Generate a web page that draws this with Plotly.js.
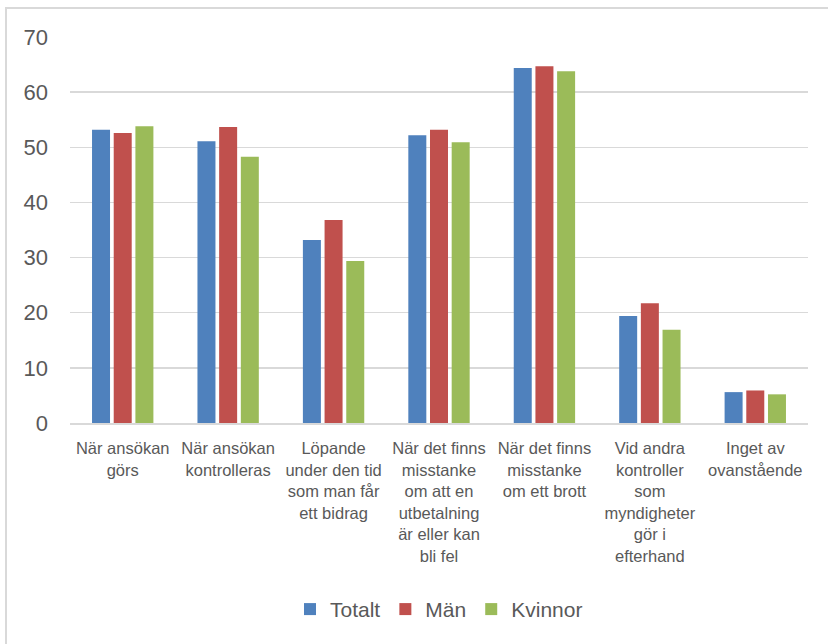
<!DOCTYPE html>
<html>
<head>
<meta charset="utf-8">
<script src="https://cdn.plot.ly/plotly-3.0.1.min.js"></script>
<style>
  html, body { margin: 0; padding: 0; background: #fff; overflow: hidden; }
  #chart { position: absolute; left: 0; top: 0; width: 828px; height: 644px; }
  #frame { position: absolute; left: 5px; top: 7px; width: 840px; height: 660px;
           border-top: 2px solid #D9D9D9; border-left: 2px solid #D9D9D9; pointer-events: none; }
</style>
</head>
<body>
<div id="chart"></div>
<div id="frame"></div>
<script>
const categories = [
  "När ansökan<br>görs",
  "När ansökan<br>kontrolleras",
  "Löpande<br>under den tid<br>som man får<br>ett bidrag",
  "När det finns<br>misstanke<br>om att en<br>utbetalning<br>är eller kan<br>bli fel",
  "När det finns<br>misstanke<br>om ett brott",
  "Vid andra<br>kontroller<br>som<br>myndigheter<br>gör i<br>efterhand",
  "Inget av<br>ovanstående"
];
const totalt  = [53.2, 51.1, 33.2, 52.2, 64.4, 19.4, 5.6];
const man     = [52.6, 53.7, 36.8, 53.2, 64.7, 21.7, 5.9];
const kvinnor = [53.8, 48.3, 29.4, 50.9, 63.8, 16.9, 5.2];
const seriesNames = ["Totalt", "Män", "Kvinnor"];
const yTicks = [0, 10, 20, 30, 40, 50, 60, 70];

const colors = ["#4F81BD", "#C0504D", "#9BBB59"];
const fontFam = "'Liberation Sans', Arial, sans-serif";

const data = [totalt, man, kvinnor].map((vals, i) => ({
  type: "bar",
  name: seriesNames[i],
  x: categories,
  y: vals,
  marker: { color: colors[i] },
  hoverinfo: "y"
}));

const layout = {
  width: 828,
  height: 644,
  margin: { l: 70, r: 20, t: 37, b: 221 },
  paper_bgcolor: "#fff",
  plot_bgcolor: "#fff",
  font: { family: fontFam, color: "#595959" },
  barmode: "group",
  bargap: 0.383,
  bargroupgap: 0.17,
  showlegend: true,
  legend: {
    orientation: "h",
    x: 0.5, xanchor: "center",
    y: -0.483, yanchor: "middle",
    font: { size: 21, family: fontFam, color: "#595959" },
    itemwidth: 30,
    traceorder: "normal"
  },
  xaxis: {
    type: "category",
    showgrid: false,
    showline: true,
    linecolor: "#D9D9D9",
    linewidth: 1.5,
    ticks: "",
    tickangle: 0,
    tickfont: { size: 16.5, family: fontFam, color: "#595959" },
    ticklabelstandoff: 10,
    fixedrange: true
  },
  yaxis: {
    range: [0, 70],
    tickvals: yTicks,
    ticktext: yTicks.map(String),
    showgrid: true,
    gridcolor: "#D9D9D9",
    gridwidth: 1.5,
    zeroline: false,
    showline: false,
    ticks: "",
    tickfont: { size: 22, family: fontFam, color: "#595959" },
    ticklabelstandoff: 21,
    fixedrange: true
  }
};

Plotly.newPlot("chart", data, layout, { displayModeBar: false, staticPlot: true });
</script>
</body>
</html>
